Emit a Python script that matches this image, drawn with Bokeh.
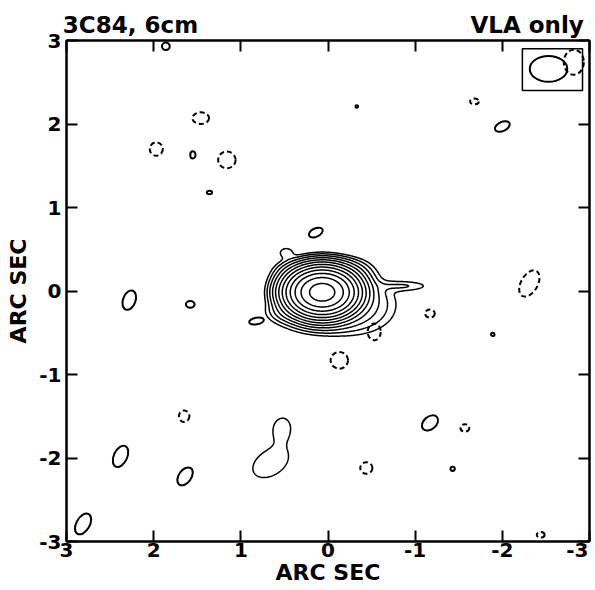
import numpy as np
from bokeh.plotting import figure
from bokeh.models import Range1d, LinearAxis, FixedTicker, ColumnDataSource
from bokeh.embed import file_html
from bokeh.resources import INLINE

# ---- axis ticks ----
tick_values = [3, 2, 1, 0, -1, -2, -3]
tick_labels = ["3", "2", "1", "0", "-1", "-2", "-3"]
# where the x tick labels sit (the last one is pulled inside the page, as in the original)
xlabel_pos = [3, 2, 1, 0, -1, -2, -2.86]

# ---- header texts (placed over the top axis) ----
header_pos = [2.266, -2.285]
header_text = ["3C84, 6cm", "VLA only"]

# ---- contour levels (multiples of the lowest contour) ----
contour_levels = [1, 2, 4, 8, 16, 32, 64, 128, 256, 512, 1024, 2048]

# ---- brightness components of the main source and the figure-8 blob (arcsec) ----
comp_x = [0.067, -0.30, 0.05, 0.38, -0.25, 0.45, 0.48, -0.87, 0.53, 0.66]
comp_y = [-0.015, -0.15, -0.30, 0.22, 0.23, -0.25, 0.46, 0.06, -1.645, -2.06]
comp_amp = [3000, 6, 4, 4, 4, 4, 1.7, 1.95, 1.55, 1.8]
comp_sa = [0.165, 0.25, 0.30, 0.13, 0.15, 0.13, 0.06, 0.19, 0.13, 0.205]
comp_sb = [0.12, 0.18, 0.12, 0.09, 0.09, 0.07, 0.045, 0.04, 0.10, 0.135]
comp_theta = [0, 0, 0, 0, 0, 0, 0, 0, 100, -34]

# ---- isolated positive (solid) contours ----
pos_x = [1.86, 1.55, 1.36, 0.14, 2.28, 1.58, 0.82, -1.17, -1.43, 2.38, 1.64, 2.81, -0.33, -2.00, -1.89]
pos_y = [2.93, 1.63, 1.18, 0.70, -0.11, -0.16, -0.36, -1.58, -2.13, -1.98, -2.22, -2.79, 2.21, 1.97, -0.52]
pos_w = [0.09, 0.06, 0.06, 0.17, 0.23, 0.10, 0.17, 0.21, 0.05, 0.26, 0.23, 0.26, 0.03, 0.18, 0.04]
pos_h = [0.09, 0.085, 0.04, 0.10, 0.15, 0.08, 0.08, 0.15, 0.05, 0.16, 0.15, 0.16, 0.03, 0.11, 0.04]
pos_ang = [0, 0, 0, 25, 70, 0, 10, 40, 0, 65, 55, 60, 0, 25, 0]

# ---- isolated negative (dashed) contours ----
neg_x = [1.46, 1.97, 1.16, -0.53, -1.17, -0.13, -1.57, -0.44, -2.44, -1.68, -2.82, -2.31, 1.65]
neg_y = [2.07, 1.70, 1.57, -0.49, -0.27, -0.83, -1.64, -2.12, -2.92, 2.27, 2.74, 0.09, -1.50]
neg_w = [0.19, 0.15, 0.20, 0.15, 0.11, 0.20, 0.10, 0.14, 0.09, 0.10, 0.23, 0.33, 0.12]
neg_h = [0.14, 0.16, 0.20, 0.20, 0.10, 0.20, 0.09, 0.14, 0.07, 0.07, 0.30, 0.20, 0.14]
neg_ang = [0, 0, 0, 0, 0, 0, 0, 0, 0, 0, 0, 60, 0]

# ---- restoring beam and its box ----
beam_x = [-2.53]
beam_y = [2.66]
beam_w = [0.43]
beam_h = [0.31]
box_left = [-2.23]
box_right = [-2.92]
box_top = [2.90]
box_bottom = [2.40]

FONT = "DejaVu Sans"

p = figure(width=595, height=590, output_backend="svg", toolbar_location=None,
           x_range=Range1d(3, -3), y_range=Range1d(-3, 3),
           x_axis_location=None, y_axis_location=None,
           min_border_left=66, min_border_right=6, min_border_top=40, min_border_bottom=49)
p.background_fill_color = "white"
p.border_fill_color = "white"
p.outline_line_color = "black"
p.outline_line_width = 2
p.grid.visible = False

# contours of the component image
gx = np.linspace(-3, 3, 721)
gy = np.linspace(-3, 3, 721)
X, Y = np.meshgrid(gx, gy)
Z = np.zeros_like(X)
for x0, y0, a, sa, sb, th in zip(comp_x, comp_y, comp_amp, comp_sa, comp_sb, comp_theta):
    t = np.deg2rad(th)
    dx = X - x0
    dy = Y - y0
    u = dx * np.cos(t) + dy * np.sin(t)
    v = -dx * np.sin(t) + dy * np.cos(t)
    Z += a * np.exp(-0.5 * ((u / sa) ** 2 + (v / sb) ** 2))
p.contour(gx, gy, Z, levels=contour_levels, line_color="black", line_width=1.5)

pos_src = ColumnDataSource(dict(x=pos_x, y=pos_y, w=pos_w, h=pos_h, a=pos_ang))
p.ellipse(x="x", y="y", width="w", height="h", angle="a", angle_units="deg",
          source=pos_src, fill_color=None, line_color="black", line_width=2)
neg_src = ColumnDataSource(dict(x=neg_x, y=neg_y, w=neg_w, h=neg_h, a=neg_ang))
p.ellipse(x="x", y="y", width="w", height="h", angle="a", angle_units="deg",
          source=neg_src, fill_color=None, line_color="black", line_width=2, line_dash="5 3")

p.ellipse(x=beam_x, y=beam_y, width=beam_w, height=beam_h,
          fill_color=None, line_color="black", line_width=2)
p.quad(left=box_left, right=box_right, top=box_top, bottom=box_bottom,
       fill_color=None, line_color="black", line_width=1.5)


def style_axis(ax):
    ax.major_tick_in = 11
    ax.major_tick_out = 0
    ax.minor_tick_line_color = None
    ax.axis_line_width = 2
    ax.axis_line_color = "black"
    ax.major_tick_line_width = 2
    ax.major_tick_line_color = "black"
    ax.major_label_text_font = FONT
    ax.major_label_text_font_style = "bold"
    ax.major_label_text_color = "black"
    ax.axis_label_text_font = FONT
    ax.axis_label_text_font_style = "bold"
    ax.axis_label_text_color = "black"


def ticks_as_minor(ax):
    ax.major_tick_line_color = None
    ax.minor_tick_line_color = "black"
    ax.minor_tick_line_width = 2
    ax.minor_tick_in = 11
    ax.minor_tick_out = 0


# bottom axis: tick marks are minor ticks, labels sit at xlabel_pos
xb = LinearAxis(ticker=FixedTicker(ticks=xlabel_pos, minor_ticks=tick_values),
                major_label_overrides={v: s for v, s in zip(xlabel_pos, tick_labels)},
                axis_label="ARC SEC")
style_axis(xb)
ticks_as_minor(xb)
xb.major_label_text_font_size = "20px"
xb.axis_label_text_font_size = "22px"
xb.major_label_standoff = 1
xb.axis_label_standoff = 0
p.add_layout(xb, "below")

yl = LinearAxis(ticker=FixedTicker(ticks=tick_values),
                major_label_overrides={v: s for v, s in zip(tick_values, tick_labels)},
                axis_label="ARC SEC")
style_axis(yl)
yl.major_label_text_font_size = "20px"
yl.axis_label_text_font_size = "22px"
yl.major_label_standoff = 5
yl.axis_label_standoff = 5
p.add_layout(yl, "left")

yr = LinearAxis(ticker=FixedTicker(ticks=tick_values),
                major_label_overrides={v: "" for v in tick_values})
style_axis(yr)
yr.major_label_text_font_size = "0px"
yr.major_label_standoff = 0
yr.axis_label_standoff = 0
p.add_layout(yr, "right")

# top axis: tick marks are minor ticks, the two header texts are its labels
xt = LinearAxis(ticker=FixedTicker(ticks=header_pos, minor_ticks=tick_values),
                major_label_overrides={v: s for v, s in zip(header_pos, header_text)})
style_axis(xt)
ticks_as_minor(xt)
xt.major_label_text_font_size = "23px"
xt.major_label_standoff = 3
xt.axis_label_standoff = 0
p.add_layout(xt, "above")

open("out.html", "w").write(file_html(p, INLINE))
